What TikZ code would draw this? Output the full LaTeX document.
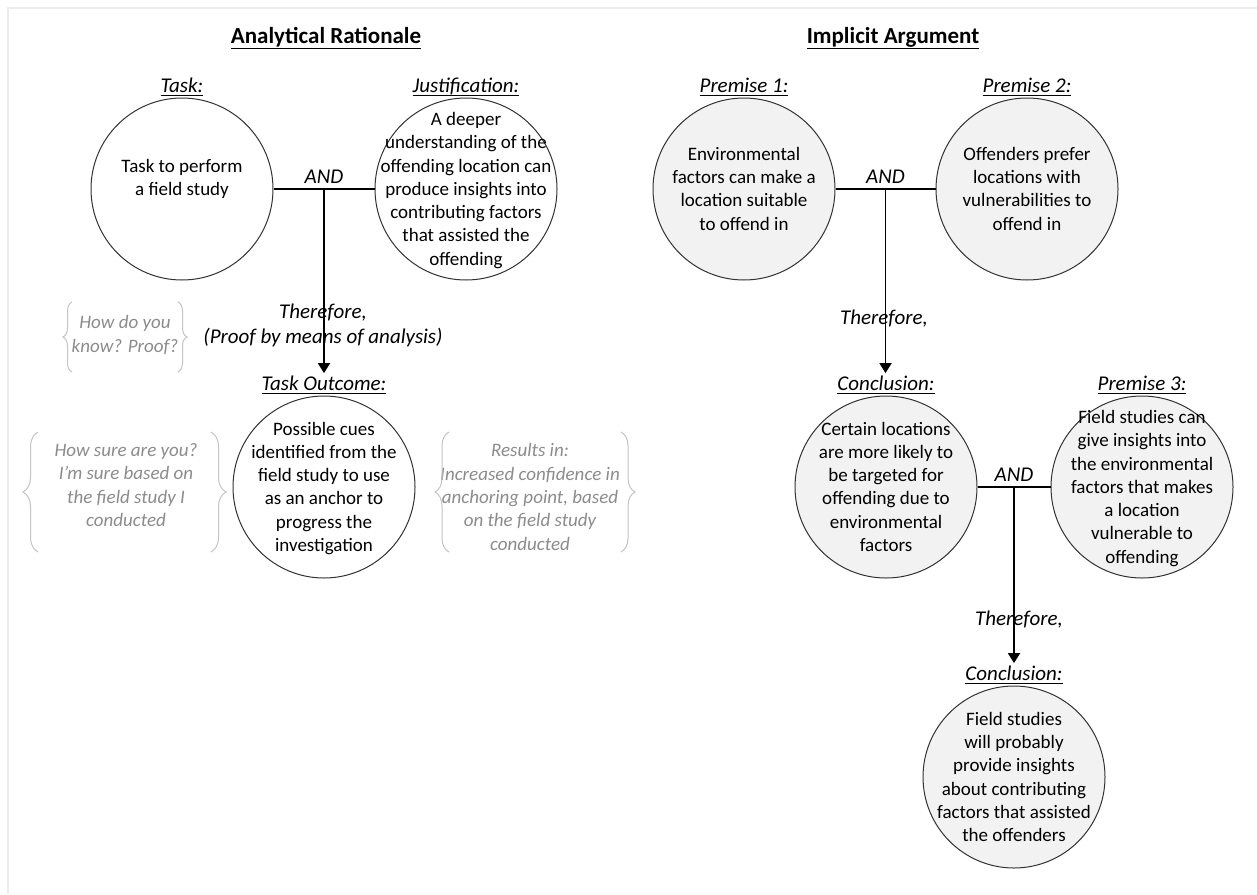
\documentclass[tikz,border=0pt]{standalone}
\usepackage{fontspec}
\setmainfont{Carlito}
\usetikzlibrary{arrows.meta,positioning,decorations.pathreplacing}
\definecolor{bubblegray}{HTML}{F2F2F2}
\definecolor{notegray}{HTML}{8C8C8C}
\definecolor{bracegray}{HTML}{C4C4C4}
\definecolor{framegray}{HTML}{EDEDED}
% text that may run over the rim of its bubble without growing it
\newcommand{\bubbletext}[1]{\smash{\makebox[0pt]{\raisebox{-6pt}{\begin{tabular}{@{}c@{}}#1\end{tabular}}}}}
% underline kept at one height, descenders or not
\newcommand{\headtext}[1]{\underline{\raisebox{0pt}[\height][1pt]{#1}}}

\begin{document}
\begin{tikzpicture}[x=1pt,y=-1pt,
  claim node/.style={circle,draw=black!80,line width=1pt,fill=white,minimum size=182pt,
    inner sep=0pt,font=\fontsize{19}{23.3}\selectfont},
  premise node/.style={claim node,fill=bubblegray},
  head node/.style={inner sep=2pt,text height=15pt,font=\fontsize{21}{24}\selectfont\itshape},
  title node/.style={font=\fontsize{23}{27}\selectfont\bfseries},
  word node/.style={align=center,font=\fontsize{21}{25}\selectfont\itshape},
  note node/.style={align=center,text=notegray,font=\fontsize{19}{23.3}\selectfont\itshape},
  link/.style={line width=1.8pt},
  therefore arrow/.style={line width=1.8pt,-{Triangle[length=10pt,width=12pt]}},
  note brace/.style={draw=bracegray,line width=1pt,decorate,decoration={brace,amplitude=#1}}]

  \fill[white] (0,0) rectangle (1257,894);
  \useasboundingbox (0,0) rectangle (1257,894);
  \draw[framegray,line width=2pt] (8,894) -- (8,8) -- (1257,8);

  \node[title node] (art) at (326,38) {\underline{Analytical Rationale}};
  \node[title node] (iat) at (893,38) {\underline{Implicit Argument}};

  % left column: task, justification and what comes out of them
  \node[claim node] (task) at (182,189) {\bubbletext{Task to perform\\a field study\\~}};
  \node[claim node] (just) at (466,189) {\bubbletext{A deeper\\understanding of the\\offending location can\\produce insights into\\contributing factors\\that assisted the\\offending}};
  \node[head node,above=0pt of task] (tasklbl) {\headtext{Task:}};
  \node[head node,above=0pt of just] (justlbl) {\headtext{Justification:}};
  \draw[link] (task) -- coordinate (and1) (just);
  \node[word node,above=2pt of and1] (and1txt) {AND};

  \node[claim node] (outc) at (324,487) {\bubbletext{Possible cues\\identified from the\\field study to use\\as an anchor to\\progress the\\investigation}};
  \node[head node,above=0pt of outc] (outclbl) {\headtext{Task Outcome:}};
  \node[word node] (thus1) at (323,325) {Therefore,\\(Proof by means of analysis)};
  \draw[therefore arrow] (and1) -- (and1 |- outclbl.north);

  \node[note node] (how) at (125,335) {How do you\\know? Proof?};
  \draw[note brace=9pt] (72,372) -- (72,302);
  \draw[note brace=9pt] (178,302) -- (178,372);

  \node[note node] (sure) at (126,485) {How sure are you?\\I’m sure based on\\the field study I\\conducted};
  \draw[note brace=15pt] (38,552) -- (38,432);
  \draw[note brace=15pt] (211,432) -- (211,552);

  \node[note node] (result) at (530,497) {Results in:\\Increased confidence in\\anchoring point, based\\on the field study\\conducted};
  \draw[note brace=14pt] (449,552) -- (449,432);
  \draw[note brace=14pt] (621,432) -- (621,552);

  % right column: premises chained into conclusions
  \node[premise node] (p1) at (744,189) {\bubbletext{Environmental\\factors can make a\\location suitable\\to offend in}};
  \node[premise node] (p2) at (1027,189) {\bubbletext{Offenders prefer\\locations with\\vulnerabilities to\\offend in}};
  \node[head node,above=0pt of p1] (p1lbl) {\headtext{Premise 1:}};
  \node[head node,above=0pt of p2] (p2lbl) {\headtext{Premise 2:}};
  \draw[link] (p1) -- coordinate (and2) (p2);
  \node[word node,above=2pt of and2] (and2txt) {AND};

  \node[premise node] (c1) at (886,487) {\bubbletext{Certain locations\\are more likely to\\be targeted for\\offending due to\\environmental\\factors}};
  \node[premise node] (p3) at (1142,487) {\bubbletext{Field studies can\\give insights into\\the environmental\\factors that makes\\a location\\vulnerable to\\offending}};
  \node[head node,above=0pt of c1] (c1lbl) {\headtext{Conclusion:}};
  \node[head node,above=0pt of p3] (p3lbl) {\headtext{Premise 3:}};
  \node[word node] (thus2) at (884,319) {Therefore,};
  \draw[therefore arrow] (and2) -- (and2 |- c1lbl.north);
  \draw[link] (c1) -- coordinate (and3) (p3);
  \node[word node,above=2pt of and3] (and3txt) {AND};

  \node[premise node] (c2) at (1014,777) {\bubbletext{Field studies\\will probably\\provide insights\\about contributing\\factors that assisted\\the offenders}};
  \node[head node,above=0pt of c2] (c2lbl) {\headtext{Conclusion:}};
  \node[word node] (thus3) at (1019,620) {Therefore,};
  \draw[therefore arrow] (and3) -- (and3 |- c2lbl.north);
\end{tikzpicture}
\end{document}
